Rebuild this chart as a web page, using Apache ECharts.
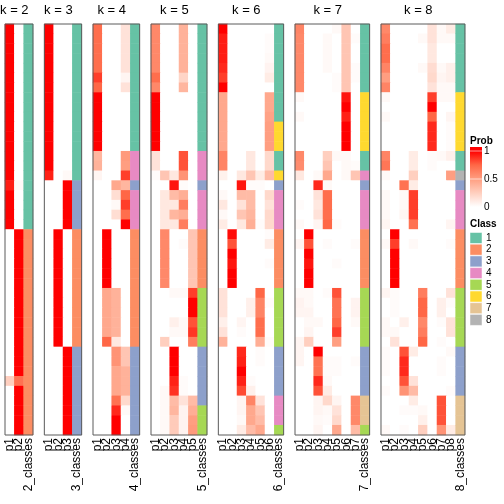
<!DOCTYPE html>
<html><head><meta charset="utf-8">
<script src="https://cdn.jsdelivr.net/npm/echarts@6/dist/echarts.min.js"></script>
<style>html,body{margin:0;padding:0;background:#fff}#c{width:504px;height:504px}</style>
</head><body><div id="c"></div>
<script>
const kValues = [2,3,4,5,6,7,8];

const probK2 = [
[1,0],[1,0],[1,0],[1,0],[1,0],[1,0],[1,0],[1,0],[1,0],[1,0],[1,0],[1,0],[1,0],[1,0],[1,0],[1,0],
[0.93,0.03],[1,0],[1,0],[1,0],[1,0],
[0,1],[0,1],[0,1],[0,1],[0,1],[0,1],[0,1],[0,1],[0,1],[0,1],[0,1],[0,1],[0,1],[0,1],[0,1],
[0.25,0.7],[0,1],[0,1],[0,1],[0,1],[0,1]];

const probK3 = [
[1,0,0],[1,0,0],[1,0,0],[1,0,0],[1,0,0],[1,0,0],[1,0,0],[1,0,0],[1,0,0],[1,0,0],[1,0,0],[1,0,0],[1,0,0],[1,0,0],[1,0,0],
[0.92,0,0.03],
[0,0,1],[0,0,1],[0,0,1],[0,0,1],[0,0,1],
[0,1,0],[0,1,0],[0,1,0],[0,1,0],[0,1,0],[0,1,0],[0,1,0],[0,1,0],[0,1,0],[0,1,0],[0,1,0],[0,1,0],
[0,0,1],[0,0,1],[0,0,1],[0,0,1],[0,0,1],[0,0,1],[0,0,1],[0,0,1],[0,0,1]];

const probK4 = [
[0.72,0,0,0.15],[0.72,0,0,0.15],[0.72,0,0,0.15],[0.72,0,0,0.15],[0.72,0,0,0.15],
[0.85,0,0,0.05],[0.75,0,0,0.15],
[1,0,0,0],[1,0,0,0],[1,0,0,0],[1,0,0,0],[1,0,0,0],[1,0,0,0],
[0.38,0,0,0.52],[0.4,0,0,0.5],[0.05,0,0,0.85],
[0,0,0.45,0.38],[0,0,0.17,0.75],[0,0,0.03,0.85],[0,0,0.17,0.72],[0,0,0,1],
[0,1,0,0],[0,1,0,0],[0,1,0,0],[0,1,0,0],[0,1,0,0],[0,1,0,0],
[0,0.45,0.4,0],[0,0.45,0.4,0],[0,0.45,0.4,0],[0,0.45,0.4,0],[0,0.45,0.4,0],
[0,0.75,0.12,0],
[0,0,0.55,0.3],[0,0,0.55,0.3],[0,0,0.45,0.4],[0,0,0.45,0.4],[0,0,0.45,0.4],
[0,0,0.7,0.2],[0,0,0.9,0.03],[0,0,1,0],[0,0,1,0]];

const probK5 = [
[0.6,0,0,0.4,0],[0.6,0,0,0.4,0],[0.6,0,0,0.4,0],[0.6,0,0,0.4,0],[0.6,0,0,0.4,0],
[0.72,0,0,0.22,0],[0.6,0,0,0.38,0],
[1,0,0,0,0],[1,0,0,0,0],[1,0,0,0,0],[1,0,0,0,0],[1,0,0,0,0],[1,0,0,0,0],
[0.15,0,0,0.8,0],[0.15,0,0,0.8,0],[0.02,0.3,0.12,0.55,0],
[0,0,0.95,0.02,0],
[0,0.12,0.35,0.42,0],[0,0.12,0.12,0.65,0],[0,0.12,0.38,0.42,0],[0,0.12,0.12,0.65,0],
[0,0.6,0,0,0.3],[0,0.6,0,0.02,0.3],[0,0.6,0,0,0.3],[0,0.6,0,0,0.3],[0,0.6,0,0,0.3],[0,0.6,0,0,0.3],
[0,0,0.03,0.03,0.85],[0,0,0,0,1],[0,0,0,0,1],[0,0,0.08,0.03,0.8],[0,0,0.03,0.03,0.87],[0,0.25,0,0,0.65],
[0,0,1,0,0],[0,0,1,0,0],[0,0,1,0,0],[0,0,0.92,0.02,0],[0,0.03,0.88,0.02,0],
[0,0.03,0.35,0.15,0.35],[0,0.03,0.38,0.06,0.42],[0,0.03,0.27,0.06,0.5],[0,0.03,0.27,0.06,0.52]];

const probK6 = [
[1,0,0,0,0,0],[0.93,0,0,0,0,0.02],[0.93,0,0,0,0,0.02],[0.93,0,0,0,0,0.03],[0.9,0,0,0,0,0.06],
[0.85,0,0,0,0,0.1],[1,0,0,0,0,0],
[0.45,0,0,0,0,0.45],[0.45,0,0,0,0,0.45],[0.45,0,0,0,0,0.48],[0.45,0,0,0,0,0.5],[0.45,0,0,0,0,0.5],[0.45,0,0,0,0,0.5],
[0.62,0,0,0.12,0,0.2],[0.62,0,0,0.12,0,0.2],[0.07,0,0.12,0.3,0.1,0.35],
[0,0,0.95,0.02,0.02,0],
[0.03,0,0.35,0.35,0,0.2],[0.12,0,0.15,0.35,0,0.15],[0.03,0,0.3,0.38,0,0.2],[0.1,0,0.12,0.42,0.02,0.2],
[0,0.97,0,0,0,0.02],[0,0.8,0,0,0,0.1],[0,1,0,0,0,0],[0,0.95,0,0,0,0.02],[0,1,0,0,0,0],[0,1,0,0,0,0],
[0.15,0,0,0,0.75,0],[0.15,0,0,0.08,0.62,0.02],[0.15,0,0,0.08,0.62,0],[0.08,0,0.05,0,0.72,0],[0.15,0,0.02,0,0.72,0],[0.4,0,0,0,0.42,0.02],
[0,0,0.9,0,0.02,0],[0,0,0.92,0,0.02,0],[0,0,1,0,0,0],[0,0,0.92,0.02,0,0],[0,0,0.82,0.08,0,0],
[0,0,0.05,0.62,0.15,0],[0,0,0.05,0.45,0.3,0],[0,0,0.03,0.45,0.35,0],[0,0,0.1,0.35,0.45,0]];

const probK7 = [
[0.62,0,0,0,0.03,0.3,0],[0.6,0,0,0.03,0,0.3,0.02],[0.6,0,0,0.03,0,0.3,0],[0.6,0,0,0.03,0,0.3,0],
[0.6,0,0,0.03,0,0.3,0.02],[0.6,0,0,0,0.02,0.3,0.02],[0.6,0,0,0,0.02,0.3,0],
[0.03,0,0,0,0,0.95,0],[0,0,0,0,0,1,0],[0.03,0,0,0,0,0.92,0],[0,0,0,0,0,1,0],[0,0,0,0,0,1,0],[0,0,0,0,0,1,0],
[0.6,0,0,0.25,0.03,0.03,0],[0.58,0,0,0.3,0,0.03,0.02],[0.12,0,0.03,0.45,0,0.03,0.3],
[0,0,0.9,0.03,0,0,0],
[0,0,0.15,0.72,0,0,0],[0.02,0,0.12,0.72,0,0,0],[0,0,0.15,0.72,0,0,0],[0.03,0,0.05,0.75,0.02,0,0],
[0,1,0,0,0,0,0],[0.05,0.8,0,0.02,0,0,0.02],[0,1,0,0,0,0,0],[0,0.95,0,0,0.02,0,0],[0,1,0,0,0,0,0],[0,1,0,0,0,0,0],
[0.03,0.03,0,0.02,0.8,0,0],[0.06,0.03,0,0,0.7,0,0.06],[0.05,0.05,0,0,0.7,0,0.06],[0,0.03,0.03,0,0.75,0,0.03],[0,0.05,0,0,0.85,0,0],[0.05,0.25,0,0,0.5,0,0],
[0.05,0,1,0,0,0,0],[0.05,0,0.7,0.02,0.02,0,0.02],[0,0,0.7,0.02,0.02,0,0],[0,0,0.9,0.03,0,0,0],[0,0,0.8,0.1,0,0,0],
[0,0,0.05,0.2,0.05,0,0.6],[0,0,0.05,0.03,0.15,0,0.6],[0,0,0.03,0.02,0.2,0,0.6],[0,0,0.05,0,0.45,0,0.35]];

const probK8 = [
[0.6,0,0,0,0,0.15,0.03,0.1],[0.65,0,0,0,0.03,0.15,0.03,0.03],[0.72,0,0,0,0,0.12,0,0],[0.72,0,0,0,0,0.12,0,0],
[0.62,0,0,0,0.03,0.18,0.03,0.08],[0.5,0,0,0,0,0.2,0.05,0.08],[0.62,0,0,0,0,0.15,0.03,0.03],
[0.03,0,0,0,0,0.85,0.03,0.03],[0,0,0,0,0,1,0,0],[0.03,0,0,0,0,0.75,0,0.05],[0,0,0,0,0,0.9,0,0.02],[0,0,0,0,0,0.9,0,0.02],[0,0,0,0,0,0.9,0,0.02],
[0.62,0,0,0.1,0,0.02,0.03,0.08],[0.68,0,0,0.1,0,0.02,0,0],[0.03,0,0,0.25,0,0,0,0.5],
[0,0,0.7,0.1,0,0,0,0],
[0.03,0,0.03,0.85,0,0,0,0],[0.03,0,0.03,0.85,0,0,0,0],[0.03,0,0.05,0.85,0,0,0,0],[0.05,0,0,0.7,0,0,0,0.05],
[0,1,0,0,0,0,0,0],[0.03,0.85,0,0.03,0,0,0,0.02],[0,1,0,0,0,0,0,0],[0,1,0,0,0,0,0,0],[0,1,0,0,0,0,0,0],[0,1,0,0,0,0,0,0],
[0.05,0.02,0,0,0.65,0,0,0.15],[0,0.02,0,0,0.75,0,0.08,0.02],[0,0.02,0,0,0.75,0,0.08,0],[0.03,0,0.08,0,0.6,0,0.02,0.15],[0.03,0.03,0,0,0.65,0,0,0.15],[0,0.15,0,0,0.75,0,0.02,0],
[0.02,0,0.8,0.1,0,0,0,0.03],[0.02,0,0.9,0,0,0,0.02,0],[0.02,0,0.9,0,0,0,0.02,0],[0,0,0.8,0.15,0,0,0,0],[0.02,0,0.55,0.35,0,0,0,0.02],
[0,0,0,0.1,0,0,0.8,0],[0,0,0.02,0.02,0.03,0,0.8,0],[0,0,0,0,0.08,0,0.8,0],[0.03,0,0.02,0,0.25,0,0.55,0.1]];

const classK2 = [1,1,1,1,1,1,1,1,1,1,1,1,1,1,1,1,1,1,1,1,1,2,2,2,2,2,2,2,2,2,2,2,2,2,2,2,2,2,2,2,2,2];
const classK3 = [1,1,1,1,1,1,1,1,1,1,1,1,1,1,1,1,3,3,3,3,3,2,2,2,2,2,2,2,2,2,2,2,2,3,3,3,3,3,3,3,3,3];
const classK4 = [1,1,1,1,1,1,1,1,1,1,1,1,1,4,4,4,3,4,4,4,4,2,2,2,2,2,2,2,2,2,2,2,2,3,3,3,3,3,3,3,3,3];
const classK5 = [1,1,1,1,1,1,1,1,1,1,1,1,1,4,4,4,3,4,4,4,4,2,2,2,2,2,2,5,5,5,5,5,5,3,3,3,3,3,3,5,5,5];
const classK6 = [1,1,1,1,1,1,1,1,1,1,6,6,6,1,1,6,3,4,4,4,4,2,2,2,2,2,2,5,5,5,5,5,5,3,3,3,3,3,4,4,4,5];
const classK7 = [1,1,1,1,1,1,1,6,6,6,6,6,6,1,1,4,3,4,4,4,4,2,2,2,2,2,2,5,5,5,5,5,5,3,3,3,3,3,7,7,7,5];
const classK8 = [1,1,1,1,1,1,1,6,6,6,6,6,6,1,1,8,3,4,4,4,4,2,2,2,2,2,2,5,5,5,5,5,5,3,3,3,3,3,7,7,7,7];

const classColors = ['#66C2A5','#FC8D62','#8DA0CB','#E78AC3','#A6D854','#FFD92F','#E5C494','#B3B3B3'];
const classLabels = ['1','2','3','4','5','6','7','8'];
const probStops = ['#FFFFFF','#FFCFBF','#FF9E81','#FF6746','#FF0000'];
const probTickLabels = ['1','0.5','0'];

const probs = [probK2,probK3,probK4,probK5,probK6,probK7,probK8];
const classes = [classK2,classK3,classK4,classK5,classK6,classK7,classK8];

const FONT = '"Liberation Sans", Arial, Helvetica, sans-serif';
const colW = 9.33, gap = 11.35, left0 = 5, top0 = 24, H = 411;
const nRows = classK2.length;
const rowNames = Array.from({length:nRows},(_,i)=>'r'+(i+1));

const grids=[], xAxes=[], yAxes=[], series=[], titles=[], graphics=[];
const probSeriesIdx=[], classSeriesIdx=[];
let left = left0;
kValues.forEach((k,gi)=>{
  const w = (k+1)*colW;
  grids.push({left:left, top:top0, width:w, height:H, containLabel:false});
  const cats = [];
  for(let j=1;j<=k;j++) cats.push('p'+j);
  cats.push(k+'_classes');
  xAxes.push({type:'category', gridIndex:gi, data:cats, position:'bottom',
    axisLine:{show:false}, axisTick:{show:false}, splitLine:{show:false},
    axisLabel:{rotate:90, fontSize:12, color:'#000', margin:3, fontFamily:FONT, interval:0}});
  yAxes.push({type:'category', gridIndex:gi, data:rowNames, inverse:true, show:false});
  const pd=[];
  probs[gi].forEach((row,r)=>row.forEach((v,c)=>pd.push([c,r,v])));
  probSeriesIdx.push(series.length);
  series.push({type:'heatmap', xAxisIndex:gi, yAxisIndex:gi, data:pd, emphasis:{disabled:true}, itemStyle:{borderWidth:0}});
  const cd = classes[gi].map((v,r)=>[k,r,v]);
  classSeriesIdx.push(series.length);
  series.push({type:'heatmap', xAxisIndex:gi, yAxisIndex:gi, data:cd, emphasis:{disabled:true}, itemStyle:{borderWidth:0}});
  titles.push({text:'k = '+k, left:left + k*colW/2, top:4, textAlign:'center', padding:0,
    textStyle:{fontSize:13, fontWeight:'normal', color:'#000', fontFamily:FONT}});
  graphics.push({type:'rect', shape:{x:left, y:top0, width:w, height:H}, z:100,
    style:{fill:'none', stroke:'#5a5a5a', lineWidth:1}});
  left += w + gap;
});

// Prob legend
const lx = 470;
graphics.push({type:'text', x:lx, y:141, z:100, style:{text:'Prob', font:'bold 10px '+FONT, fill:'#000', textVerticalAlign:'middle'}});
const yTop=151, yBot=207;
graphics.push({type:'rect', shape:{x:lx, y:147, width:12, height:60}, z:100,
  style:{fill:new echarts.graphic.LinearGradient(0,0,0,1,[
    {offset:0,color:probStops[4]},{offset:4/60,color:probStops[4]},
    {offset:(4+14)/60,color:probStops[3]},{offset:(4+28)/60,color:probStops[2]},
    {offset:(4+42)/60,color:probStops[1]},{offset:1,color:probStops[0]}])}});
probTickLabels.forEach((t,i)=>{
  const y = yTop + i*(yBot-yTop)/2;
  if(i<2) graphics.push({type:'line', shape:{x1:lx, y1:y, x2:lx+12, y2:y}, z:101, style:{stroke:'rgba(255,255,255,0.6)', lineWidth:1}});
  graphics.push({type:'text', x:lx+14, y:y+0.5, z:100, style:{text:t, font:'10px '+FONT, fill:'#000', textVerticalAlign:'middle'}});
});
// Class legend
graphics.push({type:'text', x:lx, y:224, z:100, style:{text:'Class', font:'bold 10px '+FONT, fill:'#000', textVerticalAlign:'middle'}});
classLabels.forEach((t,i)=>{
  const y = 232.5 + i*11.7;
  graphics.push({type:'rect', shape:{x:lx, y:y, width:12, height:11}, z:100, style:{fill:classColors[i], stroke:'#fff', lineWidth:0.5}});
  graphics.push({type:'text', x:lx+16, y:y+5.5, z:100, style:{text:t, font:'10px '+FONT, fill:'#000', textVerticalAlign:'middle'}});
});

const chart = echarts.init(document.getElementById('c'), null, {renderer:'canvas'});
chart.setOption({
  animation:false,
  backgroundColor:'#fff',
  title:titles,
  grid:grids, xAxis:xAxes, yAxis:yAxes,
  visualMap:[
    {type:'continuous', min:0, max:1, show:false, seriesIndex:probSeriesIdx, inRange:{color:probStops}},
    {type:'piecewise', show:false, seriesIndex:classSeriesIdx,
      pieces:classLabels.map((l,i)=>({value:i+1, color:classColors[i], label:l}))}
  ],
  series:series,
  graphic:graphics
});
</script></body></html>
